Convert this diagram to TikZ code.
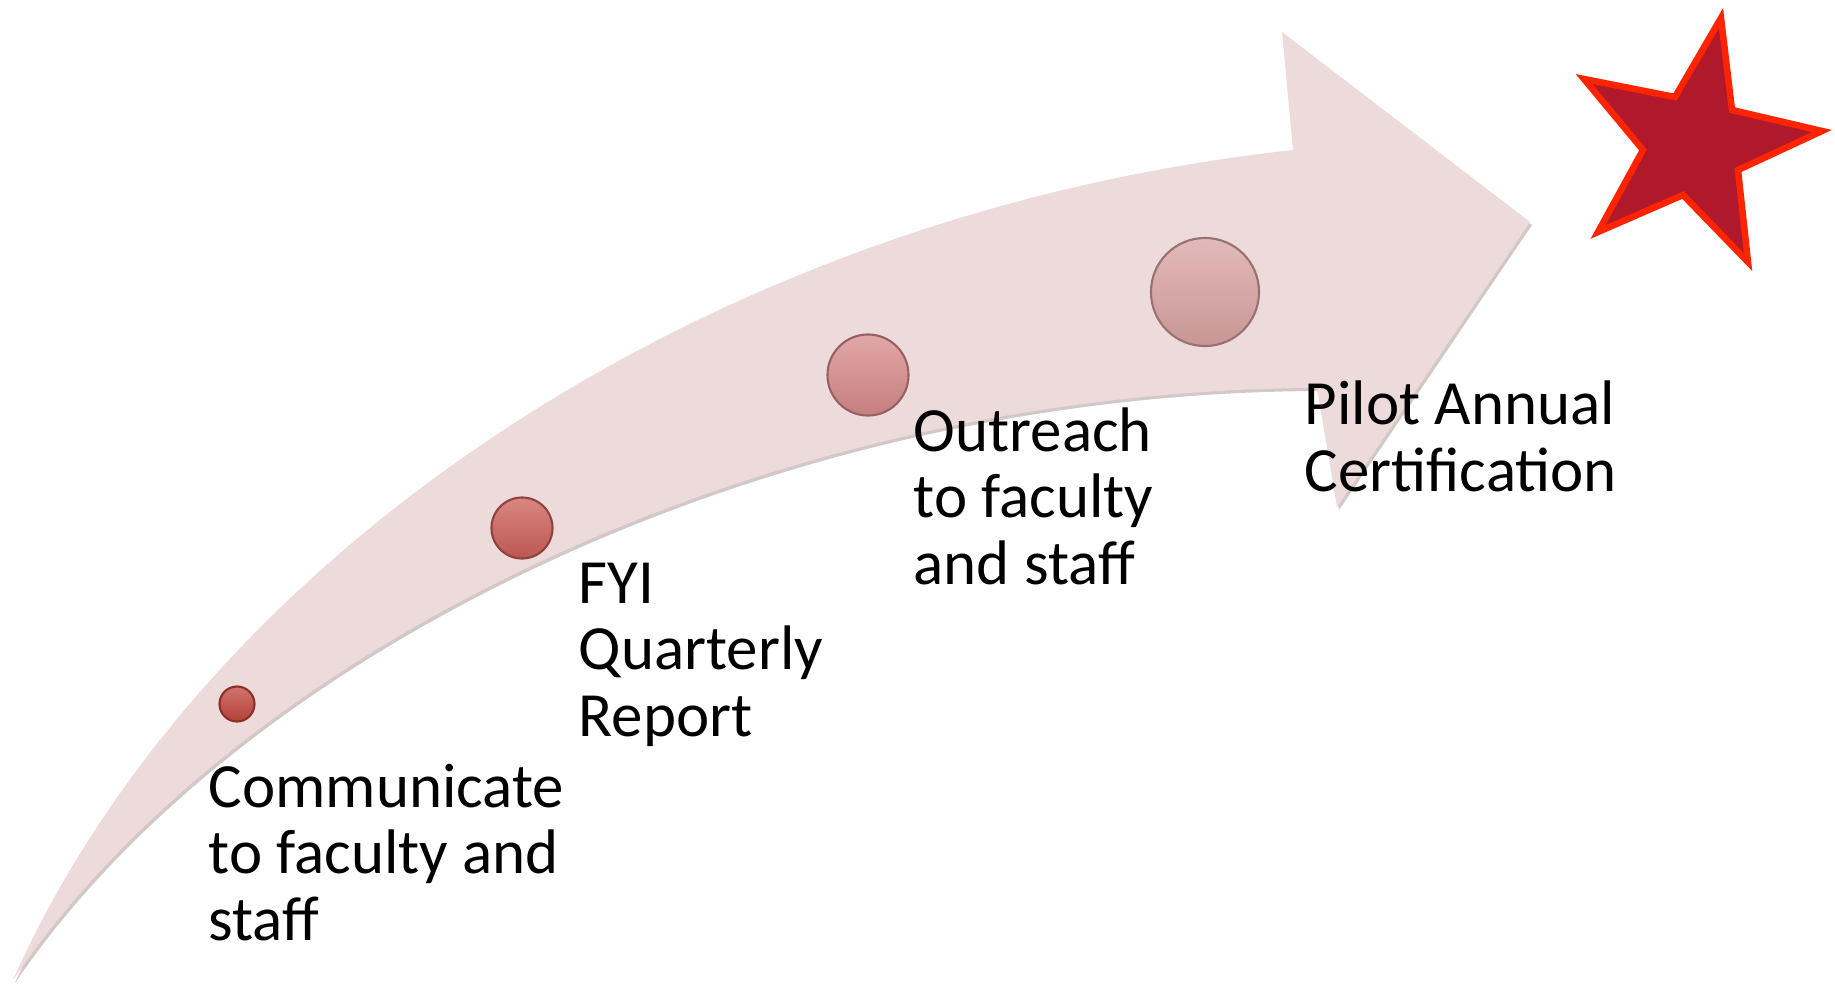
\documentclass[tikz,border=0pt]{standalone}
\usepackage{fontspec}
\setmainfont{Carlito}
\definecolor{arrowpink}{HTML}{EDDADB}
\definecolor{arrowshadow}{HTML}{D3C8C8}
\definecolor{starfill}{HTML}{B0182B}
\definecolor{starline}{HTML}{FF2400}
\newcommand\myArrowShape{(13,980) .. controls (200,560) and (700,215) .. (1293,150) -- (1282,32) -- (1530,222) -- (1337,507) -- (1317,388) .. controls (750,390) and (230,660) .. (13,980) -- cycle}
\tikzset{
  label/.style={anchor=base west, inner sep=0pt, align=left, text=black,
    font=\fontsize{17.9}{18.8}\selectfont},
  ballA/.style={circle, inner sep=0pt, top color=#1!75!white, bottom color=#1!92!black, draw=#1!70!black, line width=0.6pt},
}
\definecolor{ballone}{HTML}{C2463C}
\definecolor{balltwo}{HTML}{CD5E58}
\definecolor{ballthree}{HTML}{D78A89}
\definecolor{ballfour}{HTML}{D9A3A2}
\begin{document}
\begin{tikzpicture}[x=0.01cm,y=-0.01cm]
\useasboundingbox (0,0) rectangle (1835,984);
% arrow shadow and arrow
\begin{scope}[shift={(2,3)}]
\fill[arrowshadow] \myArrowShape;
\end{scope}
\fill[arrowpink] \myArrowShape;
% balls
\node (c1) [ballA=ballone, minimum size=0.35cm] at (237,704) {};
\node (c2) [ballA=balltwo, minimum size=0.61cm] at (522,528) {};
\node (c3) [ballA=ballthree, minimum size=0.81cm] at (868,375) {};
\node (c4) [ballA=ballfour, minimum size=1.08cm] at (1205,292) {};
% labels (base anchor = baseline of last line)
\node (t1) [label] at (208,940) {Communicate\\to faculty and\\staff};
\node (t2) [label] at (578,736) {FYI\\Quarterly\\Report};
\node (t3) [label] at (913,584) {Outreach\\to faculty\\and staff};
\node (t4) [label] at (1304,491) {Pilot Annual\\Certification};
% star
\filldraw[fill=starfill, draw=starline, line width=0.065cm, line join=miter]
  (1721,18) -- (1732,110) -- (1822,131) -- (1738,170) -- (1748,262)
  -- (1683,195) -- (1598,232) -- (1643,150) -- (1584,79) -- (1675,97) -- cycle;
\end{tikzpicture}
\end{document}
